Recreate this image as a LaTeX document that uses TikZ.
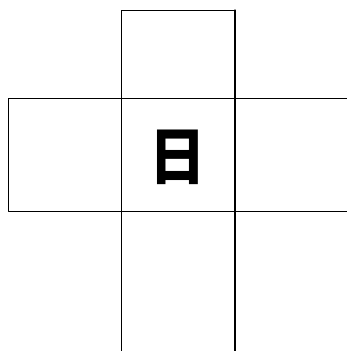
\documentclass[tikz,border=0pt]{standalone}
\usepackage{fontspec}
\newfontfamily\cjk{Noto Sans CJK SC}
\begin{document}
\begin{tikzpicture}[x=0.3mm,y=-0.3mm,line join=round,line cap=round]
            \useasboundingbox (0,0) rectangle (347,351);
            \draw[line width=0.8pt] (121,351)--(121,10)--(235,10)--(235,351);
            \draw[line width=0.8pt] (347,98)--(8,98)--(8,211)--(347,211);
            \draw[line width=1.1pt] (235,10)--(235,351);
            \node[font=\cjk\bfseries\fontsize{46}{46}\selectfont,xscale=1.05,yscale=1.15] (ri) at (178,157) {日};
        \end{tikzpicture}
\end{document}
